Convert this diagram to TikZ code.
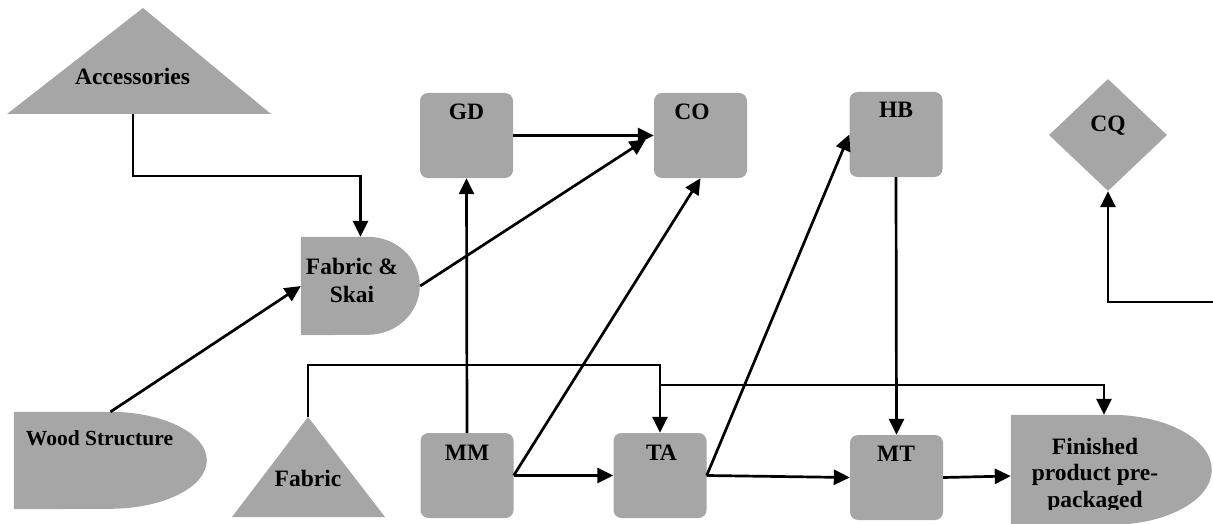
\documentclass[tikz,border=0pt]{standalone}
\usepackage{fontspec}
\setmainfont{Liberation Serif}
\usetikzlibrary{arrows.meta,shapes.geometric,calc}
\definecolor{shp}{RGB}{166,166,166}
\begin{document}
\begin{tikzpicture}[x=1pt,y=-1pt,
  box/.style={rectangle,rounded corners=8pt,fill=shp,minimum width=93pt,minimum height=85pt,inner sep=0pt},
  frame/.style={rectangle,inner sep=0pt},
  lbl/.style={font=\bfseries\fontsize{23.5}{27}\selectfont,inner sep=0pt,anchor=base},
  mlbl/.style={font=\bfseries\fontsize{23.5}{27}\selectfont,inner sep=0pt,align=center},
  arr/.style={line width=2.7pt,-{Triangle[length=16pt,width=15pt]}},
]
\useasboundingbox (0,0) rectangle (1213,524);

% Accessories triangle
\fill[shp] (7,114) -- (143,8) -- (271,114) -- cycle;
\coordinate (accb) at (133,114);
\node[lbl] (acc) at (132.5,85) {Accessories};

% Fabric & Skai
\node[frame,minimum width=119pt,minimum height=98pt] (fs) at (360.5,286) {};
\fill[shp] (fs.south west) -- (fs.north west) -- ++(67,0) arc[start angle=90,end angle=-90,x radius=52pt,y radius=49pt] -- cycle;
\node[mlbl,font=\bfseries\fontsize{23.5}{28}\selectfont] (fst) at (352,280) {Fabric \&\\Skai};

% Wood Structure
\node[frame,minimum width=193pt,minimum height=97pt] (ws) at (110.5,460.5) {};
\fill[shp] (ws.south west) -- (ws.north west) -- ++(96,0) arc[start angle=90,end angle=-90,x radius=97pt,y radius=48.5pt] -- cycle;
\node[lbl,font=\bfseries\fontsize{21.5}{25}\selectfont] (wst) at (99.5,445) {Wood Structure};

% Fabric triangle
\fill[shp] (232,517) -- (308,417) -- (385,517) -- cycle;
\coordinate (fabtop) at (308,417);
\node[lbl] (fabt) at (308,486) {Fabric};

% Finished product
\node[frame,minimum width=201pt,minimum height=110pt] (fp) at (1111.5,470) {};
\fill[shp] (fp.south west) -- (fp.north west) -- ++(100,0) arc[start angle=90,end angle=-90,x radius=101pt,y radius=55pt] -- cycle;
\begin{scope}
\clip (1000,400) rectangle (1213,509);
\node[mlbl,font=\bfseries\fontsize{23.5}{26.5}\selectfont] (fpt) at (1095,475.3) {Finished\\product pre-\\packaged};
\end{scope}

% Boxes
\node[box] (gd) at (466.5,135.5) {};
\node[lbl] (gdt) at (466.5,120) {GD};
\node[box] (co) at (700.5,135.5) {};
\node[lbl] (cot) at (692,120) {CO};
\node[box] (hb) at (896,134.5) {};
\node[lbl] (hbt) at (896,118) {HB};
\node[box] (mm) at (467,475.5) {};
\node[lbl] (mmt) at (467,460) {MM};
\node[box] (ta) at (660,475.5) {};
\node[lbl] (tat) at (661.5,460) {TA};
\node[box] (mt) at (896.5,477.5) {};
\node[lbl] (mtt) at (896,461) {MT};

% CQ diamond
\node[diamond,fill=shp,minimum width=118pt,minimum height=112pt,inner sep=0pt] (cq) at (1108,135) {};
\node[lbl] (cqt) at (1108,132) {CQ};

% Connectors
\draw[arr] (accb) -- ++(0,62) -| (fs.north);
\draw[arr] (ws.north) -- (fs.west);
\draw[arr] (fs.east) -- ([xshift=-8pt,yshift=-4pt]co.west);
\draw[arr] (gd.east) -- (co.west);
\draw[arr] (mm.north) -- (gd.south);
\draw[arr] (mm.east) -- (co.south);
\draw[arr] (mm.east) -- (ta.west);
\draw[arr] (ta.east) -- (hb.west);
\draw[arr] (ta.east) -- (mt.west);
\draw[arr] (mt.east) -- ([yshift=-6pt]fp.west);
\draw[arr] (hb.south) -- (mt.north);
\draw[arr] (fabtop) -- ++(0,-52) -| (ta.north);
\coordinate (br) at (660,385);
\draw[arr] (br) -| ([xshift=-7.5pt]fp.north);
\coordinate (edge) at (1213,302);
\draw[arr] (edge) -| (cq.south);
\end{tikzpicture}
\end{document}
